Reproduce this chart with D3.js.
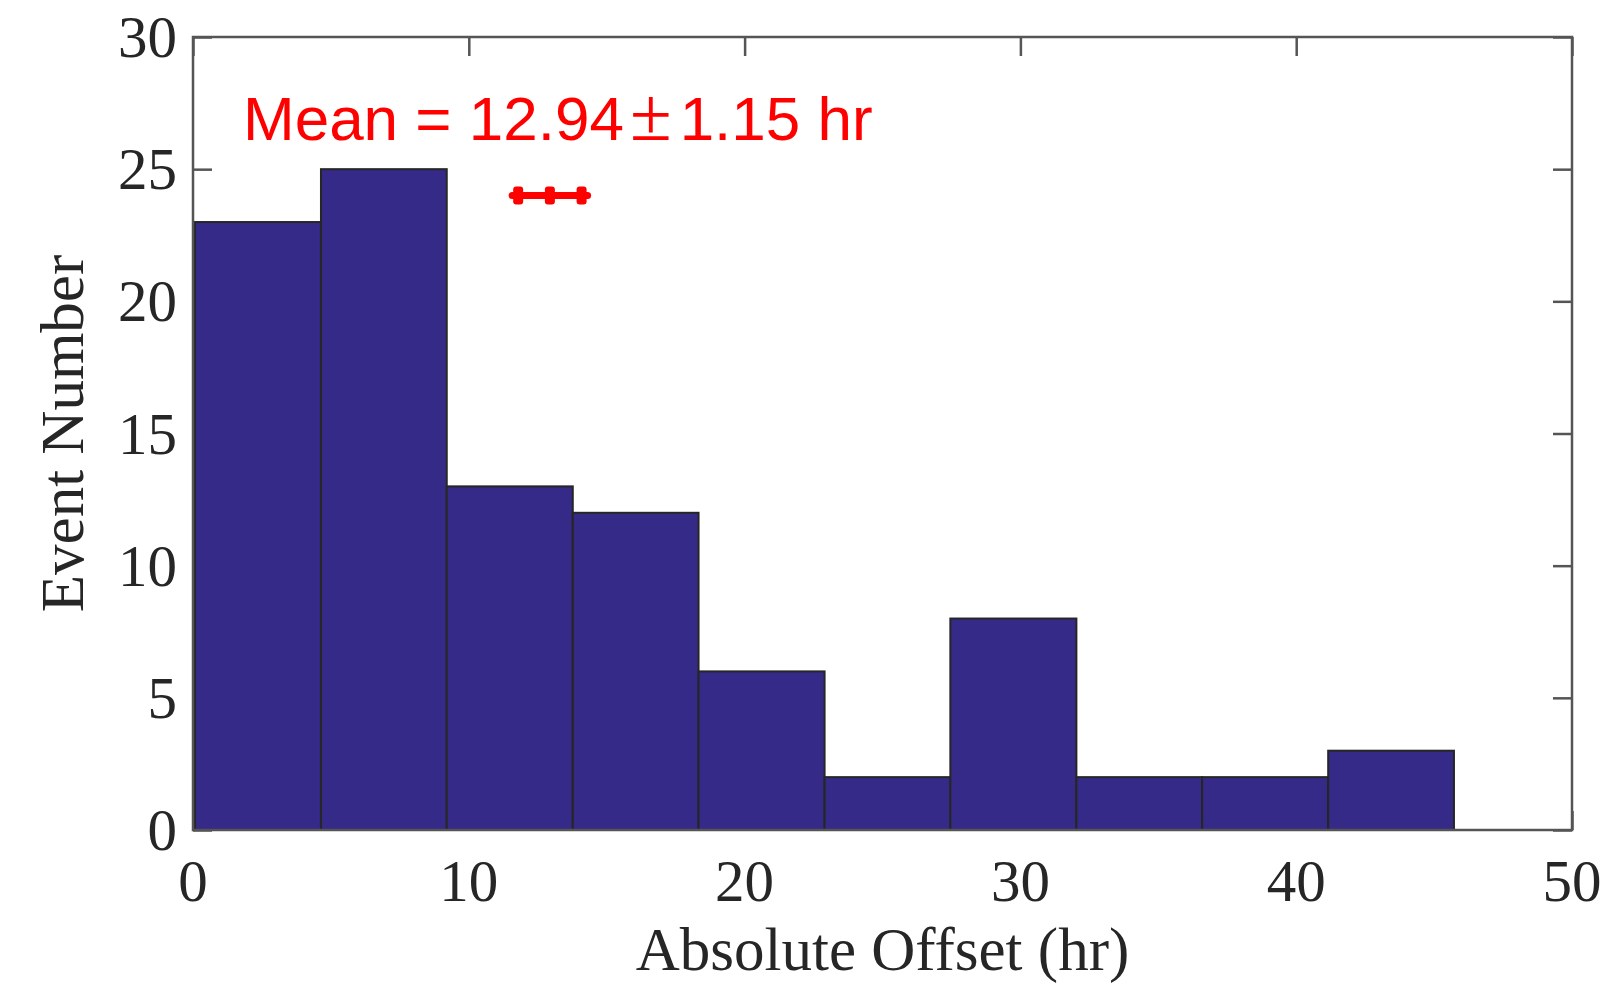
<!DOCTYPE html>
<html>
<head>
<meta charset="utf-8">
<script src="https://cdn.jsdelivr.net/npm/d3@7"></script>
<style>
    body { margin: 0; background: #fff; }
    svg { display: block; }
</style>
</head>
<body>
<div id="chart"></div>
<script>
// histogram bins (edges in hr) and counts
var binEdges = [0.07, 4.64, 9.20, 13.77, 18.33, 22.90, 27.46, 32.03, 36.59, 41.16, 45.72];
var binCounts = [23, 25, 13, 12, 6, 2, 8, 2, 2, 3];

var xTicks = [0, 10, 20, 30, 40, 50];
var yTicks = [0, 5, 10, 15, 20, 25, 30];

// mean marker
var meanValue = 12.94;
var meanError = 1.15;
var meanLevel = 24;
var meanLabelParts = ["Mean = 12.94", "\u00b1", "1.15 hr"];

var W = 1608, H = 985;
var plot = { left: 193, right: 1572, top: 37, bottom: 830 };

var svg = d3.select('#chart').append('svg')
    .attr('width', W)
    .attr('height', H);

var x = d3.scaleLinear().domain([0, 50]).range([plot.left, plot.right]);
var y = d3.scaleLinear().domain([0, 30]).range([plot.bottom, plot.top]);

var serif = '"Liberation Serif", "Times New Roman", serif';
var sans = '"Liberation Sans", Arial, sans-serif';
var tickLen = 19;
var axisColor = '#555';

// inward ticks on all four sides (drawn under the bars like matlab)
var g_ticks = svg.append('g').attr('class', 'ticks');

var axBottom = d3.axisBottom(x).tickValues(xTicks).tickSize(-tickLen).tickFormat('');
var axTop = d3.axisTop(x).tickValues(xTicks).tickSize(-tickLen).tickFormat('');
var axLeft = d3.axisLeft(y).tickValues(yTicks).tickSize(-tickLen).tickFormat('');
var axRight = d3.axisRight(y).tickValues(yTicks).tickSize(-tickLen).tickFormat('');

g_ticks.append('g').attr('transform', 'translate(0,' + plot.bottom + ')').call(axBottom);
g_ticks.append('g').attr('transform', 'translate(0,' + plot.top + ')').call(axTop);
g_ticks.append('g').attr('transform', 'translate(' + plot.left + ',0)').call(axLeft);
g_ticks.append('g').attr('transform', 'translate(' + plot.right + ',0)').call(axRight);

g_ticks.selectAll('.domain').remove();
g_ticks.selectAll('.tick line')
    .style('stroke', axisColor)
    .style('stroke-width', 2.5);

// bars
var bins = binCounts.map(function(c, i) {
    return { x0: binEdges[i], x1: binEdges[i + 1], count: c };
});

svg.append('g').attr('class', 'bars')
    .selectAll('rect')
    .data(bins)
    .enter()
    .append('rect')
    .attr('x', function(d) { return x(d.x0); })
    .attr('y', function(d) { return y(d.count); })
    .attr('width', function(d) { return x(d.x1) - x(d.x0); })
    .attr('height', function(d) { return y(0) - y(d.count); })
    .style('fill', '#352a87')
    .style('stroke', '#262626')
    .style('stroke-width', 2);

// axes box
svg.append('rect')
    .attr('x', plot.left)
    .attr('y', plot.top)
    .attr('width', plot.right - plot.left)
    .attr('height', plot.bottom - plot.top)
    .style('fill', 'none')
    .style('stroke', axisColor)
    .style('stroke-width', 2.5);

// tick labels
svg.append('g').selectAll('text')
    .data(xTicks)
    .enter()
    .append('text')
    .attr('x', function(d) { return x(d); })
    .attr('y', 901)
    .attr('text-anchor', 'middle')
    .style('font-family', serif)
    .style('font-size', '59px')
    .style('fill', '#262626')
    .text(function(d) { return d; });

svg.append('g').selectAll('text')
    .data(yTicks)
    .enter()
    .append('text')
    .attr('x', 177)
    .attr('y', function(d) { return y(d); })
    .attr('dy', '0.34em')
    .attr('text-anchor', 'end')
    .style('font-family', serif)
    .style('font-size', '59px')
    .style('fill', '#262626')
    .text(function(d) { return d; });

// axis titles
svg.append('text')
    .attr('x', (plot.left + plot.right) / 2)
    .attr('y', 970)
    .attr('text-anchor', 'middle')
    .style('font-family', serif)
    .style('font-size', '61px')
    .style('fill', '#262626')
    .text('Absolute Offset (hr)');

svg.append('text')
    .attr('transform', 'translate(83,' + ((plot.top + plot.bottom) / 2) + ') rotate(-90)')
    .attr('text-anchor', 'middle')
    .style('font-family', serif)
    .style('font-size', '61px')
    .style('fill', '#262626')
    .text('Event Number');

// mean with error bar
var g_mean = svg.append('g').attr('class', 'mean');

g_mean.append('line')
    .attr('x1', x(meanValue - meanError) - 6)
    .attr('x2', x(meanValue + meanError) + 6)
    .attr('y1', y(meanLevel))
    .attr('y2', y(meanLevel))
    .style('stroke', '#ff0000')
    .style('stroke-width', 7)
    .style('stroke-linecap', 'round');

g_mean.selectAll('rect')
    .data([meanValue - meanError, meanValue, meanValue + meanError])
    .enter()
    .append('rect')
    .attr('x', function(d) { return x(d) - 5; })
    .attr('y', y(meanLevel) - 9)
    .attr('width', 10)
    .attr('height', 18)
    .attr('rx', 3)
    .style('fill', '#ff0000');

var meanText = g_mean.append('text')
    .attr('x', 243)
    .attr('y', 140)
    .style('font-family', sans)
    .style('font-size', '62px')
    .style('fill', '#ff0000');

meanText.append('tspan').text(meanLabelParts[0]);
// the ± sign in the figure is a thin, wider serif glyph
meanText.append('tspan')
    .attr('dx', 6)
    .style('font-family', serif)
    .style('font-size', '76px')
    .text(meanLabelParts[1]);
meanText.append('tspan')
    .attr('dx', 8)
    .text(meanLabelParts[2]);
</script>
</body>
</html>
